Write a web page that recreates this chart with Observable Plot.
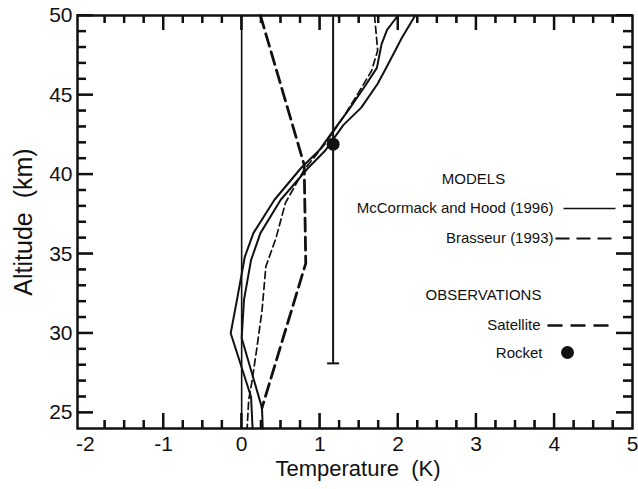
<!DOCTYPE html>
<html><head><meta charset="utf-8">
<script src="https://cdn.jsdelivr.net/npm/d3@7"></script>
<script src="https://cdn.jsdelivr.net/npm/@observablehq/plot@0.6"></script>
<style>
html,body{margin:0;padding:0;background:#fff;}
#chart svg{display:block;}
</style>
</head><body><div id="chart"></div>
<script>
// ---- data ----
// McCormack and Hood (1996) – two solid model curves
const mcA_alt  = [50, 49.1, 48.2, 46.7, 45.5, 44.0, 42.8, 41.5, 40.4, 38.4, 36.3, 34.8, 32.1, 30.0, 26.0, 24];
const mcA_temp = [2.00, 1.86, 1.79, 1.73, 1.57, 1.36, 1.18, 0.99, 0.76, 0.42, 0.15, 0.04, -0.06, -0.14, 0.12, 0.14];
const mcB_alt  = [50, 48.6, 46.9, 45.7, 44.2, 43.1, 41.5, 40.4, 38.4, 36.3, 34.6, 32.1, 29.7, 25.3, 24];
const mcB_temp = [2.22, 2.05, 1.87, 1.74, 1.53, 1.30, 1.07, 0.85, 0.50, 0.24, 0.12, 0.03, 0.00, 0.26, 0.27];
// Brasseur (1993) – thin dashed
const bra_alt  = [50, 47.8, 46.5, 45.1, 43.6, 42.0, 40.3, 38.2, 36.0, 34.2, 31.4, 28.9, 26.9, 25.8, 24];
const bra_temp = [1.70, 1.74, 1.66, 1.49, 1.30, 1.08, 0.80, 0.56, 0.44, 0.31, 0.26, 0.19, 0.13, 0.09, 0.07];
// Satellite observations – thick long dashes
const sat_alt  = [50, 40.6, 34.4, 25.3];
const sat_temp = [0.24, 0.80, 0.82, 0.26];
// Rocket observation with error bar
const rocketTemp = [1.17];
const rocketAlt = [41.9];
const rocketErrLow = [28.1];
const rocketErrHigh = [50];
// zero reference
const zeroLine = [0];
// axes
const xDomain = [-2.1, 5];
const yDomain = [24, 50];
const xMajor = [-2, -1, 0, 1, 2, 3, 4, 5];
const xMinor = d3.range(-1.75, 5, 0.25).filter(v => !Number.isInteger(v));
const yMajor = [25, 30, 35, 40, 45, 50];
const yMinor = d3.range(25, 50, 1).filter(v => v % 5 !== 0);
// texts
const modelsHeader = ["MODELS"];
const obsHeader = ["OBSERVATIONS"];
const legendLabels = ["McCormack and Hood (1996)", "Brasseur (1993)", "Satellite", "Rocket"];
const xTitle = ["Temperature\u00a0 (K)"];
const yTitle = ["Altitude\u00a0 (km)"];

// ---- layout ----
const W = 638, H = 489, mL = 77, mR = 6, mT = 15, mB = 61;
const ink = "#111";
const uy = (yDomain[1] - yDomain[0]) / (H - mT - mB);
const ux = (xDomain[1] - xDomain[0]) / (W - mL - mR);
const series = (alt, temp) => alt.map((a, i) => ({alt: a, temp: temp[i]}));
const seg = half => ({draw(ctx) { ctx.moveTo(-half, 0); ctx.lineTo(half, 0); }});
const legendText = {frameAnchor: "top-left", lineAnchor: "middle", fontSize: 15, fill: ink, text: d => d};
const xMajorInner = xMajor.filter(v => v > xDomain[0] + 0.15 && v < xDomain[1]);

const xTickMarks = (vals, len, bottom) => Plot.ruleX(vals, {
  x: d => d,
  y1: bottom ? yDomain[0] : yDomain[1],
  y2: bottom ? yDomain[0] + len * uy : yDomain[1] - len * uy,
  stroke: ink, strokeWidth: 2
});
const yTickMarks = (vals, len, left) => Plot.ruleY(vals, {
  y: d => d,
  x1: left ? xDomain[0] : xDomain[1],
  x2: left ? xDomain[0] + len * ux : xDomain[1] - len * ux,
  stroke: ink, strokeWidth: 2
});

const chart = Plot.plot({
  width: W, height: H,
  marginLeft: mL, marginRight: mR, marginTop: mT, marginBottom: mB,
  x: {domain: xDomain},
  y: {domain: yDomain},
  style: {fontFamily: "'Liberation Sans', Arial, Helvetica, sans-serif", fontSize: "21px", color: ink, background: "#fff"},
  marks: [
    Plot.axisX({ticks: xMajor, tickSize: 0, tickPadding: 8, tickFormat: d => String(d), label: null, fontSize: 21}),
    Plot.axisY({ticks: yMajor, tickSize: 0, tickPadding: 5, tickFormat: d => String(d), label: null, fontSize: 21}),
    xTickMarks(xMajorInner, 15, true),
    xTickMarks(xMinor, 8, true),
    xTickMarks(xMajorInner, 15, false),
    xTickMarks(xMinor, 8, false),
    yTickMarks(yMajor, 16, true),
    yTickMarks(yMinor, 9, true),
    yTickMarks(yMajor, 16, false),
    yTickMarks(yMinor, 9, false),
    Plot.text(xTitle, {text: d => d, frameAnchor: "bottom", lineAnchor: "middle", textAnchor: "middle", dx: 3, dy: 40, fontSize: 22, fill: ink}),
    Plot.text(yTitle, {text: d => d, frameAnchor: "left", lineAnchor: "middle", textAnchor: "middle", dx: -54, rotate: -90, fontSize: 25, fill: ink}),
    Plot.ruleX(zeroLine, {x: d => d, stroke: ink, strokeWidth: 1.6}),
    Plot.ruleX(rocketTemp, {x: d => d, y1: (d, i) => rocketErrLow[i], y2: (d, i) => rocketErrHigh[i], stroke: ink, strokeWidth: 2}),
    Plot.dot(rocketTemp, {x: d => d, y: (d, i) => rocketErrLow[i], symbol: seg(6), r: 5, fill: "none", stroke: ink, strokeWidth: 2}),
    Plot.line(series(mcA_alt, mcA_temp), {x: "temp", y: "alt", stroke: ink, strokeWidth: 2}),
    Plot.line(series(mcB_alt, mcB_temp), {x: "temp", y: "alt", stroke: ink, strokeWidth: 2}),
    Plot.line(series(bra_alt, bra_temp), {x: "temp", y: "alt", stroke: ink, strokeWidth: 1.7, strokeDasharray: "7,4"}),
    Plot.line(series(sat_alt, sat_temp), {x: "temp", y: "alt", stroke: ink, strokeWidth: 2.8, strokeDasharray: "13,6"}),
    Plot.dot(rocketTemp, {x: d => d, y: (d, i) => rocketAlt[i], r: 6.5, fill: ink, stroke: "none"}),
    Plot.text(modelsHeader, {...legendText, dx: 396, dy: 164, textAnchor: "middle"}),
    Plot.text([legendLabels[0]], {...legendText, dx: 476, dy: 193, textAnchor: "end"}),
    Plot.dot([legendLabels[0]], {frameAnchor: "top-left", dx: 512, dy: 193, symbol: seg(26), r: 5, fill: "none", stroke: ink, strokeWidth: 1.5}),
    Plot.text([legendLabels[1]], {...legendText, dx: 476, dy: 223, textAnchor: "end"}),
    Plot.dot([legendLabels[1]], {frameAnchor: "top-left", dx: 509, dy: 223, symbol: seg(31), r: 5, fill: "none", stroke: ink, strokeWidth: 2, strokeDasharray: "14,7"}),
    Plot.text(obsHeader, {...legendText, dx: 406, dy: 280, textAnchor: "middle"}),
    Plot.text([legendLabels[2]], {...legendText, dx: 463, dy: 310, textAnchor: "end"}),
    Plot.dot([legendLabels[2]], {frameAnchor: "top-left", dx: 501, dy: 310, symbol: seg(31), r: 5, fill: "none", stroke: ink, strokeWidth: 2.5, strokeDasharray: "15,8"}),
    Plot.text([legendLabels[3]], {...legendText, dx: 465, dy: 338, textAnchor: "end"}),
    Plot.dot([legendLabels[3]], {frameAnchor: "top-left", dx: 490, dy: 337, r: 6.5, fill: ink, stroke: "none"}),
    Plot.frame({stroke: ink, strokeWidth: 2.5})
  ]
});
document.getElementById("chart").appendChild(chart);

// Inward ticks, positioned through Plot's own x and y scales (appended on top)
try {
  const sx = chart.scale("x"), sy = chart.scale("y");
  const yb = sy.apply(yDomain[0]), yt = sy.apply(yDomain[1]);
  const xl = sx.apply(xDomain[0]), xr = sx.apply(xDomain[1]);
  const g = d3.select(chart).append("g").attr("stroke", ink).attr("stroke-width", 2).attr("fill", "none");
  const xt = [...xMajorInner.map(v => [v, 15]), ...xMinor.map(v => [v, 8])];
  const ytk = [...yMajor.map(v => [v, 16]), ...yMinor.map(v => [v, 9])];
  xt.forEach(([v, len]) => {
    const px = sx.apply(v);
    g.append("line").attr("x1", px).attr("x2", px).attr("y1", yb).attr("y2", yb - len);
    g.append("line").attr("x1", px).attr("x2", px).attr("y1", yt).attr("y2", yt + len);
  });
  ytk.forEach(([v, len]) => {
    const py = sy.apply(v);
    g.append("line").attr("y1", py).attr("y2", py).attr("x1", xl).attr("x2", xl + len);
    g.append("line").attr("y1", py).attr("y2", py).attr("x1", xr).attr("x2", xr - len);
  });
} catch (e) {}
</script>
</body></html>
